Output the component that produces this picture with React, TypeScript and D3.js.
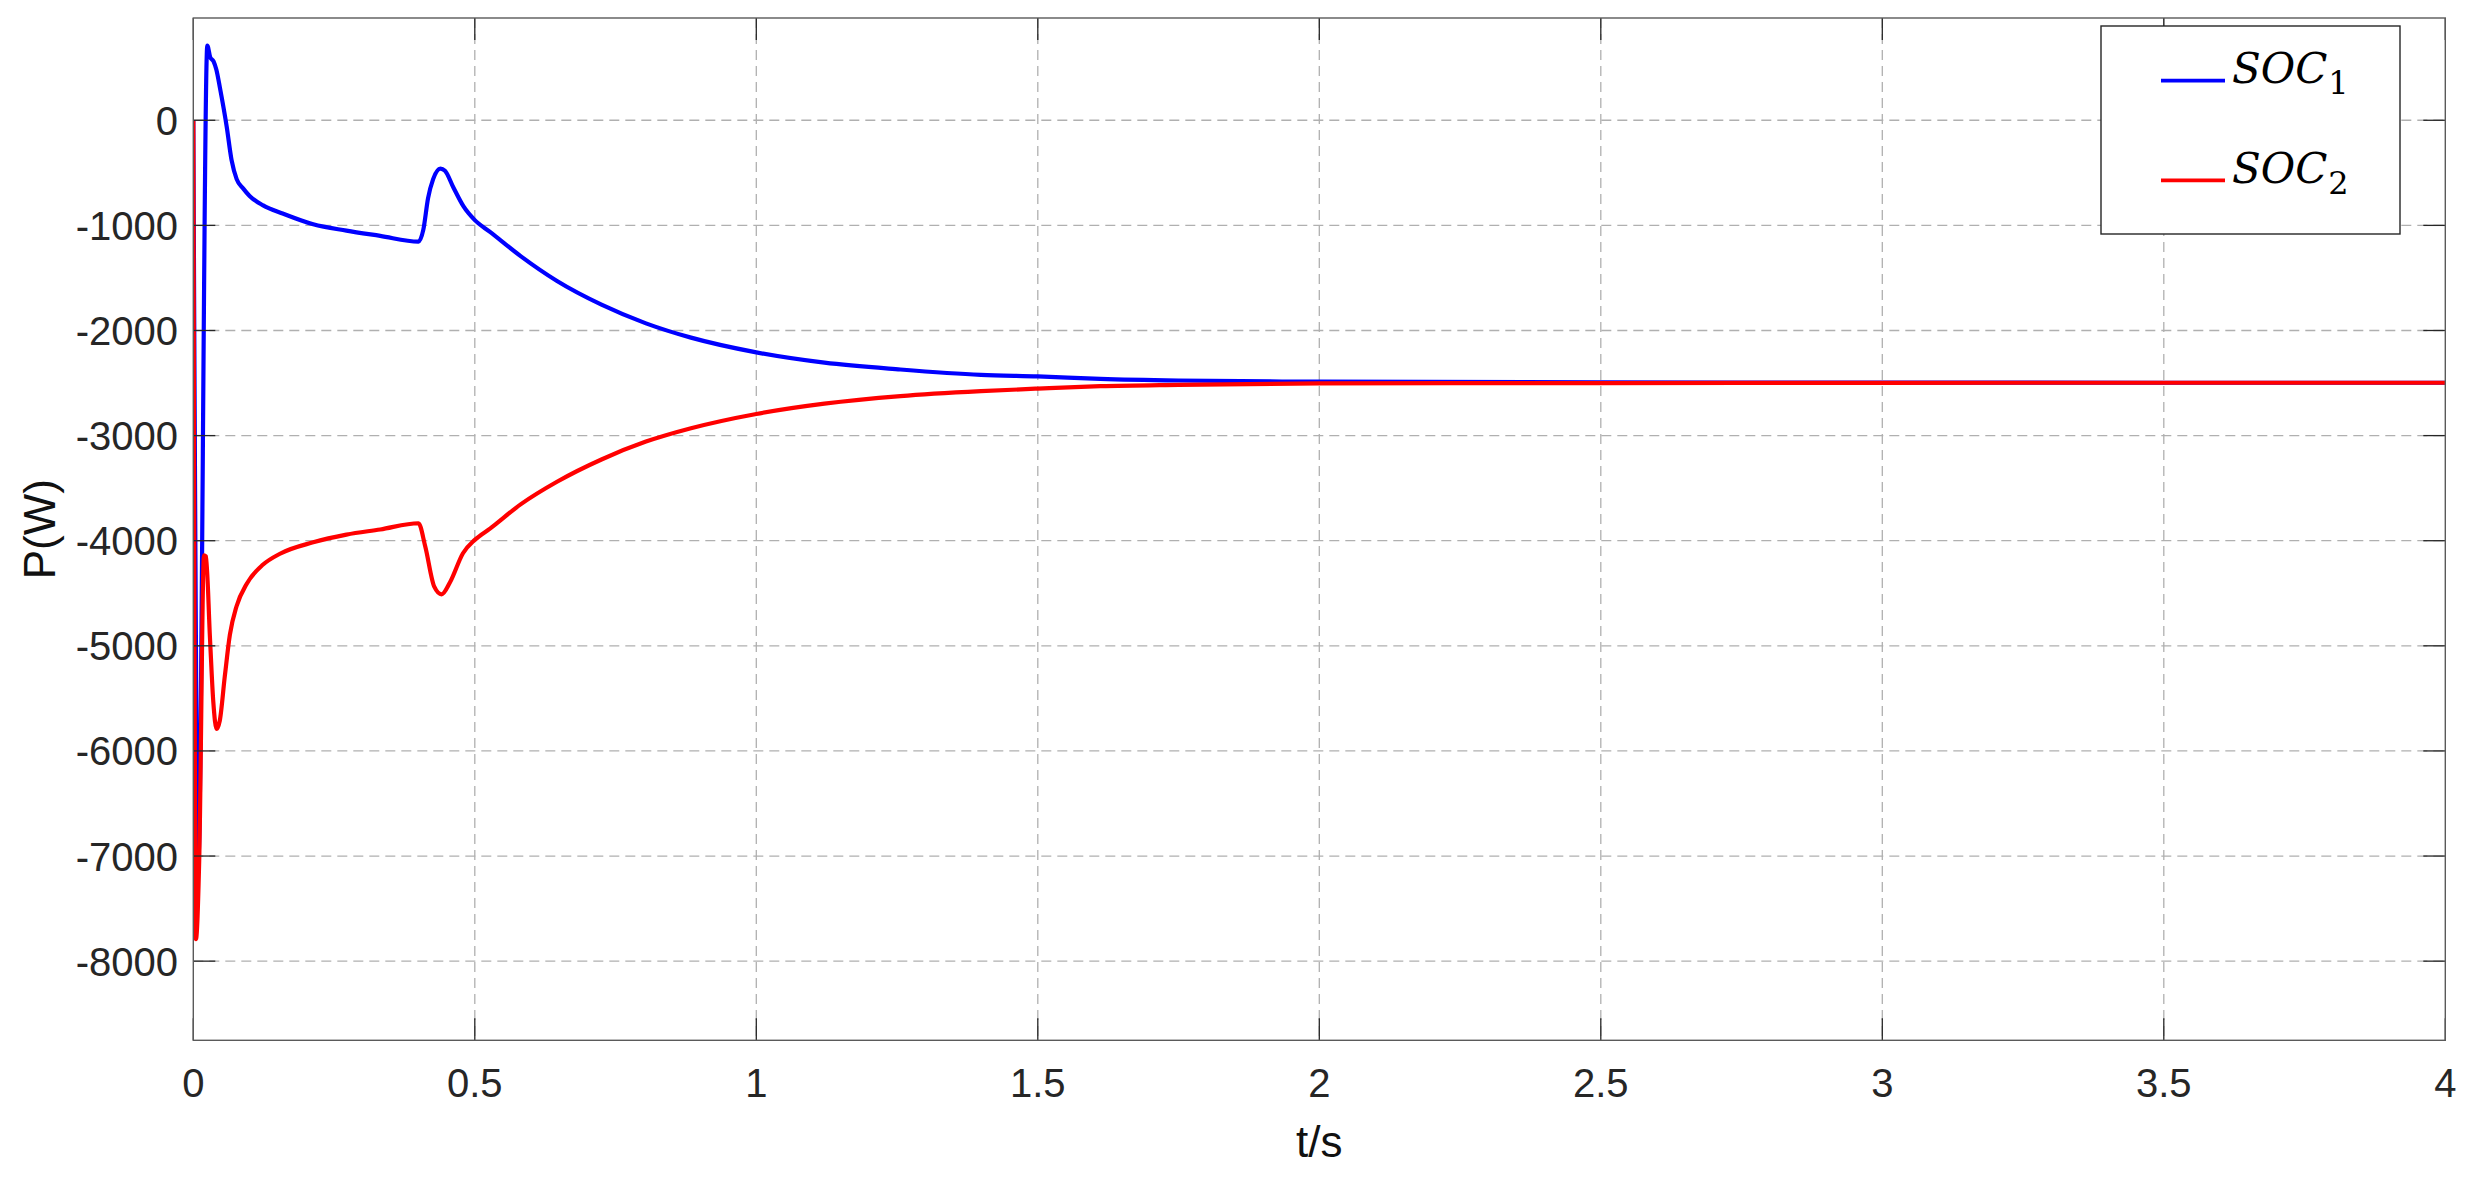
import React from "react";
import * as d3 from "d3";

const tBlue = [0, 0.009, 0.0249, 0.030, 0.036, 0.041, 0.0474, 0.0593, 0.068, 0.077, 0.0888, 0.1, 0.124, 0.16, 0.213, 0.272, 0.332, 0.4, 0.4085, 0.417, 0.426, 0.439, 0.447, 0.462, 0.48, 0.5, 0.527, 0.582, 0.646, 0.725, 0.804, 0.884, 1.0, 1.121, 1.256, 1.399, 1.5, 1.611, 1.75, 2.0, 2.5, 3, 3.5, 4];
const pBlue = [0, -7030, 710, 600, 560, 480, 306, -60, -380, -560, -650, -720, -810, -890, -990, -1050, -1100, -1155, -1043, -740, -560, -460, -480, -640, -820, -950, -1062, -1295, -1529, -1754, -1932, -2068, -2208, -2306, -2371, -2422, -2437, -2460, -2476, -2487, -2494, -2496, -2497, -2497];

const tRed = [0, 0.0047, 0.0105, 0.019, 0.0225, 0.0296, 0.0355, 0.0414, 0.047, 0.056, 0.065, 0.077, 0.095, 0.124, 0.154, 0.213, 0.272, 0.332, 0.4, 0.412, 0.428, 0.441, 0.456, 0.479, 0.5, 0.527, 0.582, 0.646, 0.725, 0.804, 0.884, 1.0, 1.121, 1.256, 1.399, 1.5, 1.611, 1.75, 2.0, 2.5, 3, 3.5, 4];
const pRed = [0, -7790, -7040, -4140, -4150, -4924, -5531, -5790, -5713, -5288, -4894, -4621, -4409, -4227, -4124, -4015, -3942, -3893, -3834, -4055, -4437, -4510, -4395, -4119, -3992, -3885, -3652, -3439, -3227, -3057, -2930, -2794, -2696, -2624, -2577, -2553, -2530, -2517, -2503, -2500, -2498, -2497, -2497];

const xTicks = [0, 0.5, 1, 1.5, 2, 2.5, 3, 3.5, 4];
const yTicks = [0, -1000, -2000, -3000, -4000, -5000, -6000, -7000, -8000];
const legendLabels = ["SOC", "SOC"];
const legendSubs = ["1", "2"];
const seriesColors = ["#0000ff", "#ff0000"];

const W = 2492;
const H = 1183;
const L = 193.3, R = 2445.3, T = 18, B = 1040.3;

export default function App() {
  const x = d3.scaleLinear().domain([0, 4]).range([L, R]);
  const y = d3.scaleLinear().domain([-8753, 973]).range([B, T]);
  const line = d3
    .line<[number, number]>()
    .x((d) => x(d[0]))
    .y((d) => y(d[1]))
    .curve(d3.curveMonotoneX);
  const blueD = line(tBlue.map((t, i) => [t, pBlue[i]] as [number, number])) || "";
  const redD = line(tRed.map((t, i) => [t, pRed[i]] as [number, number])) || "";
  const tickLen = 22;
  const axisColor = "#262626";
  const gridColor = "#b0b0b0";
  const sans = "'Liberation Sans', Arial, Helvetica, sans-serif";
  const serif = "'DejaVu Serif', 'Liberation Serif', serif";

  return (
    <svg
      width={W}
      height={H}
      style={{ position: "absolute", left: 0, top: 0, background: "#fff" }}
      xmlns="http://www.w3.org/2000/svg"
    >
      <rect x={0} y={0} width={W} height={H} fill="#fff" />
      <defs>
        <clipPath id="plotclip">
          <rect x={L} y={T} width={R - L} height={B - T} />
        </clipPath>
      </defs>
      {/* grid */}
      <g stroke={gridColor} strokeWidth={1.3} strokeDasharray="10,6">
        {xTicks.slice(1, -1).map((t) => (
          <line key={"gx" + t} x1={x(t)} x2={x(t)} y1={T} y2={B} />
        ))}
        {yTicks.map((v) => (
          <line key={"gy" + v} x1={L} x2={R} y1={y(v)} y2={y(v)} />
        ))}
      </g>
      {/* data */}
      <g clipPath="url(#plotclip)" fill="none" strokeWidth={4.2} strokeLinejoin="round">
        <path d={blueD} stroke={seriesColors[0]} />
        <path d={redD} stroke={seriesColors[1]} />
      </g>
      {/* ticks */}
      <g stroke={axisColor} strokeWidth={1.3}>
        {xTicks.map((t) => (
          <g key={"tx" + t}>
            <line x1={x(t)} x2={x(t)} y1={B} y2={B - tickLen} />
            <line x1={x(t)} x2={x(t)} y1={T} y2={T + tickLen} />
          </g>
        ))}
        {yTicks.map((v) => (
          <g key={"ty" + v}>
            <line x1={L} x2={L + tickLen} y1={y(v)} y2={y(v)} />
            <line x1={R} x2={R - tickLen} y1={y(v)} y2={y(v)} />
          </g>
        ))}
      </g>
      {/* box */}
      <rect x={L} y={T} width={R - L} height={B - T} fill="none" stroke="#5a5a5a" strokeWidth={1.4} />
      {/* tick labels */}
      <g fill={axisColor} fontFamily={sans} fontSize={40}>
        {xTicks.map((t) => (
          <text key={"lx" + t} x={x(t)} y={1097} textAnchor="middle">
            {String(t)}
          </text>
        ))}
        {yTicks.map((v) => (
          <text key={"ly" + v} x={178} y={y(v) + 14.5} textAnchor="end">
            {String(v)}
          </text>
        ))}
      </g>
      {/* axis labels */}
      <text x={(L + R) / 2} y={1157} textAnchor="middle" fontFamily={sans} fontSize={44} fill="#111">
        t/s
      </text>
      <text
        transform={`translate(55, ${(T + B) / 2}) rotate(-90)`}
        textAnchor="middle"
        fontFamily={sans}
        fontSize={44}
        fill="#111"
      >
        P(W)
      </text>
      {/* legend */}
      <rect x={2101} y={26} width={299} height={208} fill="#fff" stroke={axisColor} strokeWidth={1.4} />
      {legendLabels.map((lab, i) => {
        const ly = 80.7 + i * 99.6;
        return (
          <g key={"leg" + i}>
            <line x1={2161} x2={2225} y1={ly} y2={ly} stroke={seriesColors[i]} strokeWidth={3.8} />
            <text x={2232} y={ly + 2.6} fontFamily={serif} fontStyle="italic" fontSize={42} fill="#000">
              {lab}
              <tspan fontStyle="normal" fontSize={32} dy={11} dx={1}>
                {legendSubs[i]}
              </tspan>
            </text>
          </g>
        );
      })}
    </svg>
  );
}
